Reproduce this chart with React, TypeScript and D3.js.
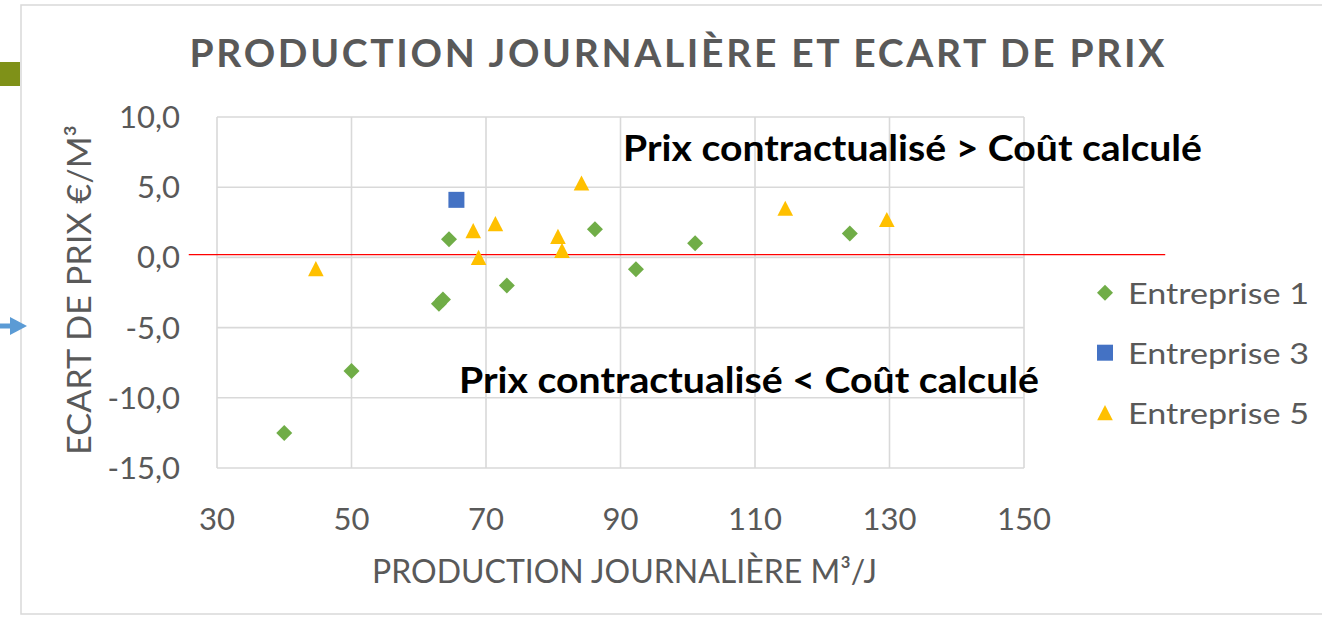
import React from "react";
import * as d3 from "d3";

const W = 1322;
const H = 621;

const titleText = "PRODUCTION JOURNALIÈRE ET ECART DE PRIX";
const xAxisTitle = "PRODUCTION JOURNALIÈRE M³/J";
const yAxisTitle = "ECART DE PRIX €/M³";
const annotationAbove = "Prix contractualisé > Coût calculé";
const annotationBelow = "Prix contractualisé < Coût calculé";

const xTicks = [30, 50, 70, 90, 110, 130, 150];
const yTicks = [10, 5, 0, -5, -10, -15];

const seriesNames = ["Entreprise 1", "Entreprise 3", "Entreprise 5"];

const entreprise1: [number, number][] = [
  [40.0, -12.5],
  [50.0, -8.1],
  [63.0, -3.3],
  [63.6, -3.0],
  [64.5, 1.3],
  [73.1, -2.0],
  [86.2, 2.0],
  [92.3, -0.85],
  [101.1, 1.0],
  [124.1, 1.7],
];
const entreprise3: [number, number][] = [[65.6, 4.1]];
const entreprise5: [number, number][] = [
  [44.7, -0.8],
  [68.1, 1.9],
  [68.9, 0.0],
  [71.4, 2.4],
  [80.7, 1.5],
  [81.3, 0.5],
  [84.2, 5.3],
  [114.5, 3.5],
  [129.6, 2.7],
];

// reference line (annotation drawn on the chart)
const refLineValue = 0.2;
const refLineXRange = [25.8, 171];

const FONT = "Lato, 'Open Sans', sans-serif";
const GREY = "#595959";

const x = d3.scaleLinear().domain([30, 150]).range([217, 1024]);
const y = d3.scaleLinear().domain([-15, 10]).range([468, 117]);

function Diamond({ cx, cy }: { cx: number; cy: number }) {
  const r = 8;
  return (
    <path
      d={`M${cx},${cy - r}L${cx + r},${cy}L${cx},${cy + r}L${cx - r},${cy}Z`}
      fill="#70AD47"
    />
  );
}
function Square({ cx, cy }: { cx: number; cy: number }) {
  const s = 8;
  return <rect x={cx - s} y={cy - s} width={2 * s} height={2 * s} fill="#4472C4" />;
}
function Triangle({ cx, cy }: { cx: number; cy: number }) {
  const w = 7.8;
  const h = 7.6;
  return (
    <path
      d={`M${cx},${cy - h}L${cx + w},${cy + h}L${cx - w},${cy + h}Z`}
      fill="#FFC000"
    />
  );
}

export default function App() {
  const markers = [Diamond, Square, Triangle];
  return (
    <svg
      width={W}
      height={H}
      style={{ position: "absolute", left: 0, top: 0, background: "#fff" }}
    >
      <rect x={0} y={0} width={W} height={H} fill="#fff" />
      {/* chart frame */}
      <rect x={21} y={5} width={W + 10} height={609} fill="#fff" stroke="#D9D9D9" strokeWidth={1.5} />
      {/* olive tab */}
      <rect x={0} y={62} width={20} height={24} fill="#7F9118" />
      {/* blue arrow */}
      <line x1={0} y1={326} x2={14} y2={326} stroke="#5B9BD5" strokeWidth={5} />
      <path d="M10,317L27,326L10,335Z" fill="#5B9BD5" />

      {/* title */}
      <text
        x={677}
        y={66.5}
        textAnchor="middle"
        fontFamily={FONT}
        fontWeight={700}
        fontSize={39}
        fill={GREY}
        textLength={975}
        lengthAdjust="spacing"
      >
        {titleText}
      </text>

      {/* gridlines */}
      <g stroke="#D9D9D9" strokeWidth={1.6}>
        {xTicks.map((t) => (
          <line key={"gx" + t} x1={x(t)} x2={x(t)} y1={y(10)} y2={y(-15)} />
        ))}
        {yTicks.map((t) => (
          <line key={"gy" + t} x1={x(30)} x2={x(150)} y1={y(t)} y2={y(t)} />
        ))}
      </g>

      {/* tick labels */}
      {yTicks.map((t) => (
        <text
          key={"ty" + t}
          x={180}
          y={y(t) + 11}
          textAnchor="end"
          fontFamily={FONT}
          fontSize={31}
          fill={GREY}
        >
          {d3.format(".1f")(t).replace(".", ",").replace("−", "-")}
        </text>
      ))}
      {xTicks.map((t) => (
        <text
          key={"tx" + t}
          x={x(t)}
          y={530}
          textAnchor="middle"
          fontFamily={FONT}
          fontSize={31}
          fill={GREY}
        >
          {t}
        </text>
      ))}

      {/* axis titles */}
      <text
        x={624.5}
        y={583}
        textAnchor="middle"
        fontFamily={FONT}
        fontSize={33}
        fill={GREY}
        textLength={505}
        lengthAdjust="spacingAndGlyphs"
      >
        {xAxisTitle}
      </text>
      <text
        transform={`translate(91,290) rotate(-90)`}
        textAnchor="middle"
        fontFamily={FONT}
        fontSize={33}
        fill={GREY}
        textLength={330}
        lengthAdjust="spacingAndGlyphs"
      >
        {yAxisTitle}
      </text>

      {/* reference line */}
      <line
        x1={x(refLineXRange[0])}
        x2={x(refLineXRange[1])}
        y1={y(refLineValue)}
        y2={y(refLineValue)}
        stroke="#FF0000"
        strokeWidth={1.2}
      />

      {/* points */}
      {entreprise1.map((d, i) => (
        <Diamond key={"e1" + i} cx={x(d[0])} cy={y(d[1])} />
      ))}
      {entreprise3.map((d, i) => (
        <Square key={"e3" + i} cx={x(d[0])} cy={y(d[1])} />
      ))}
      {entreprise5.map((d, i) => (
        <Triangle key={"e5" + i} cx={x(d[0])} cy={y(d[1])} />
      ))}

      {/* annotations */}
      <text
        x={623}
        y={160.5}
        fontFamily={FONT}
        fontWeight={700}
        fontSize={36}
        fill="#000"
        textLength={579}
        lengthAdjust="spacingAndGlyphs"
      >
        {annotationAbove}
      </text>
      <text
        x={459}
        y={393}
        fontFamily={FONT}
        fontWeight={700}
        fontSize={36}
        fill="#000"
        textLength={580}
        lengthAdjust="spacingAndGlyphs"
      >
        {annotationBelow}
      </text>

      {/* legend */}
      {seriesNames.map((name, i) => {
        const M = markers[i];
        const cy = 292.7 + i * 60;
        return (
          <g key={name}>
            <M cx={1105} cy={cy} />
            <text
              x={1128}
              y={cy + 10.8}
              fontFamily={FONT}
              fontSize={29}
              fill={GREY}
              textLength={181}
              lengthAdjust="spacingAndGlyphs"
            >
              {name}
            </text>
          </g>
        );
      })}
    </svg>
  );
}
